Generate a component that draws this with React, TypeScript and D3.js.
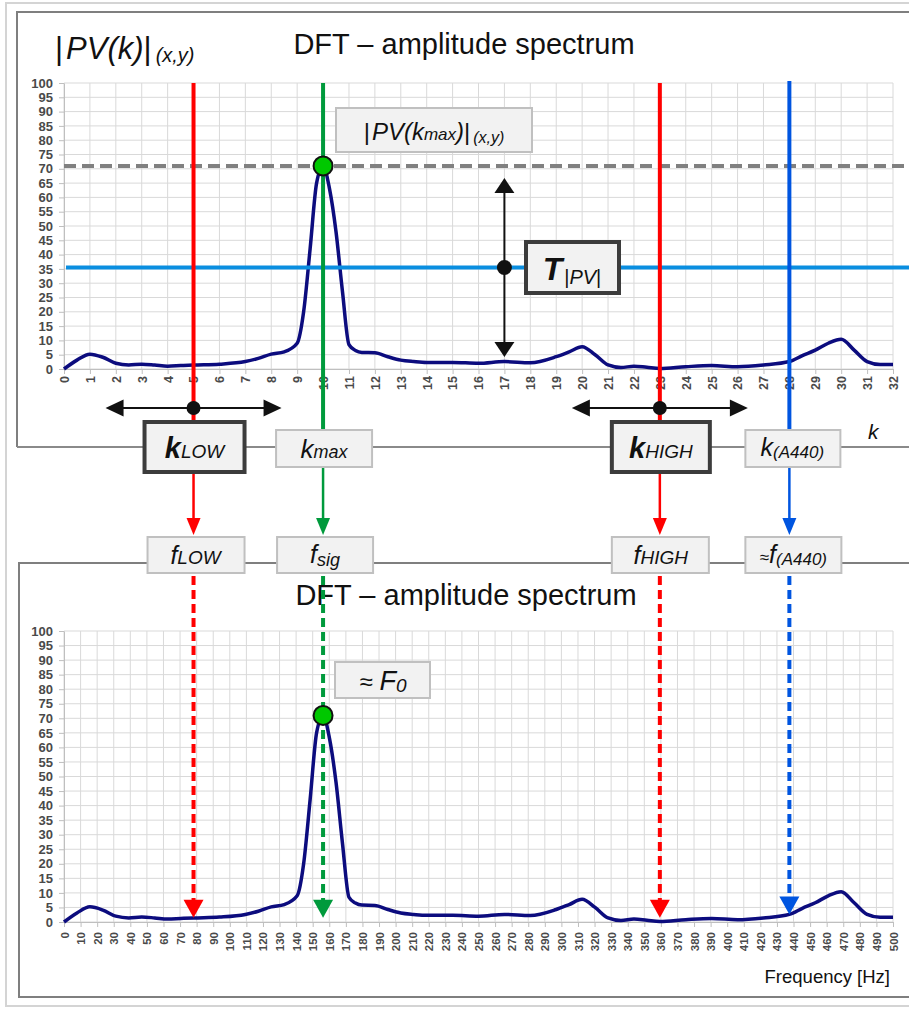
import React, { useRef, useEffect } from "react";
import * as d3 from "d3";

// DFT bin index k and amplitude |PV(k)|
const kBins = [0, 0.5, 1, 1.5, 2, 2.5, 3, 3.5, 4, 4.5, 5, 6, 7, 7.5, 8, 8.5, 9, 9.25, 9.5, 9.75, 10, 10.25, 10.5, 10.75, 11, 11.25, 11.5, 12, 12.5, 13, 13.5, 14, 15, 16, 17, 18, 19, 19.5, 20, 20.5, 21, 21.5, 22, 22.5, 23, 24, 25, 26, 27, 28, 28.5, 29, 29.5, 30, 30.5, 31, 31.5, 32];
const amplitude = [0, 3.1, 5.2, 4.1, 2.0, 1.4, 1.7, 1.4, 1.0, 1.2, 1.4, 1.7, 2.6, 3.7, 5.2, 6, 9, 20, 42, 65, 71, 63, 48, 27, 8.5, 6.5, 5.8, 5.7, 4.3, 3.1, 2.6, 2.3, 2.3, 2.0, 2.6, 2.2, 4.3, 6, 7.8, 5, 1.4, 0.5, 1, 0.6, 0.2, 0.8, 1.2, 0.8, 1.4, 2.6, 4.7, 6.6, 9, 10.4, 6.6, 2.6, 1.6, 1.6];

// tick labels
const kTicks = d3.range(0, 33, 1);
const freqTicks = d3.range(0, 510, 10);
const ampTicks = d3.range(0, 105, 5);

// 32 bins cover 0..500 Hz
const hzPerBin = 500 / 32;

// marked bins and levels
const kLow = 5;
const kMax = 10;
const kHigh = 23;
const kA440 = 28;
const peakValue = 71;
const thresholdValue = 35.5;
const kThresholdArrow = 17;

const FONT = "'Liberation Sans', Arial, sans-serif";
const RED = "#ff0000";
const GREEN = "#009a3c";
const BLUE = "#0055e0";
const CYAN = "#0a8ee0";
const NAVY = "#0c0c7e";

const headDown = (x: number, tip: number, w: number, h: number) => `M${x - w / 2},${tip - h}L${x + w / 2},${tip - h}L${x},${tip}Z`;
const headUp = (x: number, tip: number, w: number, h: number) => `M${x - w / 2},${tip + h}L${x + w / 2},${tip + h}L${x},${tip}Z`;
const headLeft = (tip: number, y: number, w: number, h: number) => `M${tip + w},${y - h / 2}L${tip + w},${y + h / 2}L${tip},${y}Z`;
const headRight = (tip: number, y: number, w: number, h: number) => `M${tip - w},${y - h / 2}L${tip - w},${y + h / 2}L${tip},${y}Z`;

function Box({ x, y, w, h, heavy }: any) {
  return (
    <rect x={x} y={y} width={w} height={h} fill="#f2f2f2"
      stroke={heavy ? "#3c3c3c" : "#c0c0c0"} strokeWidth={heavy ? 4 : 2} />
  );
}

function drawSpectrum(g: any, x: any, y: any, xTicks: number[], xOf: (k: number) => number, labelSize: number, labelGap: number) {
  const [x0, x1] = x.range();

  // grid
  g.selectAll(".vgrid").data(xTicks).join("line").attr("class", "vgrid")
    .attr("x1", (d: number) => x(d)).attr("x2", (d: number) => x(d))
    .attr("y1", y(0)).attr("y2", y(100))
    .attr("stroke", "#d9d9d9").attr("stroke-width", 1);
  g.selectAll(".hgrid").data(ampTicks).join("line").attr("class", "hgrid")
    .attr("x1", x0).attr("x2", x1)
    .attr("y1", (d: number) => y(d)).attr("y2", (d: number) => y(d))
    .attr("stroke", "#d9d9d9").attr("stroke-width", 1);

  const yAxis = g.append("g").attr("transform", `translate(${x0},0)`)
    .call(d3.axisLeft(y).tickValues(ampTicks).tickSize(5).tickSizeOuter(0).tickPadding(6));
  yAxis.attr("font-family", FONT).attr("font-size", 13).attr("font-weight", "bold");
  yAxis.select(".domain").attr("stroke", "#bfbfbf");
  yAxis.selectAll(".tick line").attr("stroke", "#bfbfbf");
  yAxis.selectAll("text").attr("fill", "#4a4a4a");

  const xAxis = g.append("g").attr("transform", `translate(0,${y(0)})`)
    .call(d3.axisBottom(x).tickValues(xTicks).tickSize(5).tickSizeOuter(0));
  xAxis.attr("font-family", FONT).attr("font-size", labelSize).attr("font-weight", "bold");
  xAxis.select(".domain").attr("stroke", "#bfbfbf");
  xAxis.selectAll(".tick line").attr("stroke", "#bfbfbf");
  xAxis.selectAll("text")
    .attr("transform", "rotate(-90)")
    .attr("x", -labelGap).attr("y", 0).attr("dy", "0.35em")
    .attr("text-anchor", "end").attr("fill", "#4a4a4a");

  const spectrum = d3.line<number>()
    .x((d, i) => x(xOf(kBins[i])))
    .y((d) => y(d))
    .curve(d3.curveMonotoneX);

  g.append("path").datum(amplitude)
    .attr("d", spectrum)
    .attr("fill", "none")
    .attr("stroke", NAVY)
    .attr("stroke-width", 3.5)
    .attr("stroke-linejoin", "round");
}

export default function App() {
  const topRef = useRef<SVGGElement>(null);
  const botRef = useRef<SVGGElement>(null);

  const xK = d3.scaleLinear().domain([0, 32]).range([64, 893]);
  const yTop = d3.scaleLinear().domain([0, 100]).range([369, 83]);
  const xF = d3.scaleLinear().domain([0, 500]).range([64, 893]);
  const yBot = d3.scaleLinear().domain([0, 100]).range([922, 631]);

  useEffect(() => {
    const top = d3.select(topRef.current);
    const bot = d3.select(botRef.current);
    top.selectAll("*").remove();
    bot.selectAll("*").remove();
    drawSpectrum(top, xK, yTop, kTicks, (k) => k, 12.5, 7);
    drawSpectrum(bot, xF, yBot, freqTicks, (k) => k * hzPerBin, 11.5, 10);
  }, []);

  const xl = xK(kLow), xm = xK(kMax), xh = xK(kHigh), xa = xK(kA440);
  const yPeak = yTop(peakValue);
  const yThr = yTop(thresholdValue);
  const xArrow = xK(kThresholdArrow);
  const bl = xF(kLow * hzPerBin), bm = xF(kMax * hzPerBin), bh = xF(kHigh * hzPerBin), ba = xF(kA440 * hzPerBin);
  const tipLow = yBot(1.5);
  const tipA440 = yBot(2.6);

  const connectors = [
    { x: xl, from: 472, color: RED },
    { x: xm, from: 468, color: GREEN },
    { x: xh, from: 472, color: RED },
    { x: xa, from: 468, color: BLUE },
  ];
  const dashed = [
    { x: bl, tip: tipLow, color: RED },
    { x: bm, tip: tipLow, color: GREEN },
    { x: bh, tip: tipLow, color: RED },
    { x: ba, tip: tipA440, color: BLUE },
  ];

  return (
    <svg width={909} height={1009} style={{ position: "absolute", left: 0, top: 0, background: "#fff" }} fontFamily={FONT}>
      {/* frames */}
      <rect x={6} y={3} width={920} height={1003} fill="none" stroke="#d4d4d4" strokeWidth={2} />
      <path d="M17,447L17,12L920,12" fill="none" stroke="#7f7f7f" strokeWidth={2} />
      <line x1={17} x2={920} y1={447} y2={447} stroke="#8a8a8a" strokeWidth={2} />
      <path d="M920,563L19,563L19,997L920,997" fill="none" stroke="#7f7f7f" strokeWidth={2} />

      <g ref={topRef} />
      <g ref={botRef} />

      {/* titles */}
      <text x={55} y={59} fontSize={31} fill="#111">
        <tspan>|</tspan><tspan fontStyle="italic" dx={3}>PV(k)</tspan><tspan>|</tspan>
        <tspan fontStyle="italic" fontSize={20} dx={4} dy={3}>(x,y)</tspan>
      </text>
      <text x={464} y={54} fontSize={29} textAnchor="middle" fill="#111">DFT – amplitude spectrum</text>
      <text x={466} y={605} fontSize={29} textAnchor="middle" fill="#111">DFT – amplitude spectrum</text>

      {/* top chart annotations */}
      <line x1={xK(0)} x2={909} y1={yPeak} y2={yPeak} stroke="#808080" strokeWidth={4} strokeDasharray="12 6" />
      <line x1={xK(0) + 2} x2={909} y1={yThr} y2={yThr} stroke={CYAN} strokeWidth={4} />
      <line x1={xl} x2={xl} y1={yTop(100)} y2={422} stroke={RED} strokeWidth={4} />
      <line x1={xm} x2={xm} y1={yTop(100)} y2={430} stroke={GREEN} strokeWidth={4} />
      <line x1={xh} x2={xh} y1={yTop(100)} y2={422} stroke={RED} strokeWidth={4} />
      <line x1={xa} x2={xa} y1={yTop(100) - 2} y2={430} stroke={BLUE} strokeWidth={4} />
      <circle cx={xm} cy={yPeak} r={9.5} fill="#00c800" stroke="#111" strokeWidth={2} />

      {/* threshold double arrow */}
      <line x1={xArrow} x2={xArrow} y1={190} y2={343} stroke="#111" strokeWidth={2} />
      <path d={headUp(xArrow, 178, 20, 15)} fill="#111" />
      <path d={headDown(xArrow, 357, 20, 15)} fill="#111" />
      <circle cx={xArrow} cy={yThr} r={7.5} fill="#111" />

      {/* search range arrows */}
      {[xl, xh].map((cx, i) => (
        <g key={i}>
          <line x1={cx - 72} x2={cx + 72} y1={408} y2={408} stroke="#111" strokeWidth={2} />
          <path d={headLeft(cx - 88, 408, 18, 17)} fill="#111" />
          <path d={headRight(cx + 88, 408, 18, 17)} fill="#111" />
          <circle cx={cx} cy={408} r={7} fill="#111" />
        </g>
      ))}

      {/* |PV(kmax)| label */}
      <Box x={336} y={108} w={196} h={44} />
      <text x={434} y={140} textAnchor="middle" fontSize={24} fill="#111">
        <tspan>|</tspan><tspan fontStyle="italic" dx={2}>PV(k</tspan>
        <tspan fontStyle="italic" fontSize={17}>max</tspan>
        <tspan fontStyle="italic">)</tspan><tspan>|</tspan>
        <tspan fontStyle="italic" fontSize={16} dx={3} dy={3}>(x,y)</tspan>
      </text>

      {/* threshold label */}
      <Box x={526} y={242} w={93} h={51} heavy />
      <text x={572} y={280} textAnchor="middle" fontSize={32} fill="#111">
        <tspan fontStyle="italic" fontWeight="bold">T</tspan>
        <tspan fontSize={20} dy={4} dx={2}>|</tspan><tspan fontSize={20} fontStyle="italic">PV</tspan><tspan fontSize={20}>|</tspan>
      </text>

      {/* connectors between k and f boxes */}
      {connectors.map((c, i) => (
        <g key={i}>
          <line x1={c.x} x2={c.x} y1={c.from} y2={520} stroke={c.color} strokeWidth={2.5} />
          <path d={headDown(c.x, 535, 14, 17)} fill={c.color} />
        </g>
      ))}

      {/* k boxes */}
      <Box x={xl - 49} y={422} w={100} h={50} heavy />
      <text x={xl + 1} y={458} textAnchor="middle" fill="#111">
        <tspan fontSize={29} fontStyle="italic" fontWeight="bold">k</tspan>
        <tspan fontSize={19} fontStyle="italic">LOW</tspan>
      </text>
      <Box x={xm - 47} y={430} w={96} h={37} />
      <text x={xm + 1} y={458} textAnchor="middle" fill="#111">
        <tspan fontSize={26} fontStyle="italic">k</tspan>
        <tspan fontSize={18} fontStyle="italic">max</tspan>
      </text>
      <Box x={xh - 48} y={422} w={98} h={50} heavy />
      <text x={xh + 1} y={458} textAnchor="middle" fill="#111">
        <tspan fontSize={29} fontStyle="italic" fontWeight="bold">k</tspan>
        <tspan fontSize={19} fontStyle="italic">HIGH</tspan>
      </text>
      <Box x={xa - 44} y={430} w={95} h={37} />
      <text x={xa + 3} y={456} textAnchor="middle" fill="#111">
        <tspan fontSize={25} fontStyle="italic">k</tspan>
        <tspan fontSize={17} fontStyle="italic" dy={2}>(A440)</tspan>
      </text>
      <text x={868} y={439} fontSize={21} fontStyle="italic" fill="#111">k</text>

      {/* f boxes */}
      <Box x={xl - 46} y={537} w={97} h={36} />
      <text x={xl + 2} y={564} textAnchor="middle" fill="#111">
        <tspan fontSize={25} fontStyle="italic">f</tspan>
        <tspan fontSize={19} fontStyle="italic">LOW</tspan>
      </text>
      <Box x={xm - 46} y={537} w={96} h={36} />
      <text x={xm + 2} y={563} textAnchor="middle" fill="#111">
        <tspan fontSize={25} fontStyle="italic">f</tspan>
        <tspan fontSize={18} fontStyle="italic" dy={3}>sig</tspan>
      </text>
      <Box x={xh - 48} y={537} w={97} h={36} />
      <text x={xh + 1} y={564} textAnchor="middle" fill="#111">
        <tspan fontSize={25} fontStyle="italic">f</tspan>
        <tspan fontSize={19} fontStyle="italic">HIGH</tspan>
      </text>
      <Box x={xa - 44} y={537} w={96} h={36} />
      <text x={xa + 4} y={563} textAnchor="middle" fill="#111">
        <tspan fontSize={17}>≈</tspan>
        <tspan fontSize={25} fontStyle="italic">f</tspan>
        <tspan fontSize={17} fontStyle="italic" dy={2}>(A440)</tspan>
      </text>

      {/* bottom chart annotations */}
      {dashed.map((d, i) => (
        <g key={i}>
          <line x1={d.x} x2={d.x} y1={576} y2={d.tip - 16} stroke={d.color} strokeWidth={4} strokeDasharray="9 5" />
          <path d={headDown(d.x, d.tip, 20, 18)} fill={d.color} />
        </g>
      ))}
      <circle cx={bm} cy={yBot(peakValue)} r={9.5} fill="#00c800" stroke="#111" strokeWidth={2} />
      <Box x={335} y={662} w={95} h={36} />
      <text x={383} y={690} textAnchor="middle" fill="#111">
        <tspan fontSize={24}>≈ </tspan>
        <tspan fontSize={27} fontStyle="italic">F</tspan>
        <tspan fontSize={19} fontStyle="italic" dy={2}>0</tspan>
      </text>
      <text x={890} y={983} textAnchor="end" fontSize={18.5} fill="#111">Frequency [Hz]</text>
    </svg>
  );
}
